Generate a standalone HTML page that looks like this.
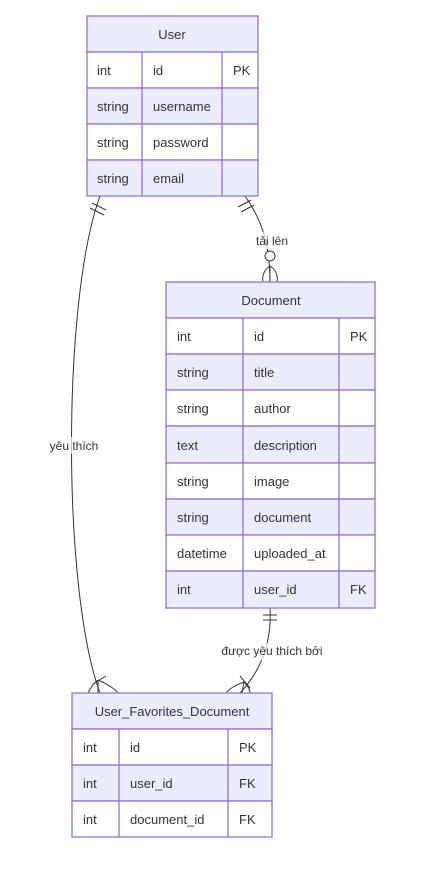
<!DOCTYPE html>
<html><head><meta charset="utf-8"><style>
body{margin:0;background:#fff}
svg text{font-family:"Liberation Sans","DejaVu Sans",sans-serif;font-size:13px;fill:#333}
</style></head><body>
<svg width="431" height="871" xmlns="http://www.w3.org/2000/svg">
<g fill="none" stroke="#333" stroke-width="1">
<path d="M100,196 C62,300 62,590 100,693"/>
<path d="M245,196 C262,220 270,245 270,282"/>
<path d="M270,608 C272,640 262,670 240,693"/>
<!-- User left: double bar -->
<line x1="92" y1="203" x2="106" y2="210"/><line x1="90" y1="208" x2="104" y2="215"/>
<!-- User right -->
<line x1="238" y1="207" x2="251" y2="200"/><line x1="241" y1="212" x2="254" y2="205"/>
<!-- Document top: circle + crow -->
<circle cx="270" cy="256" r="5" fill="#fff"/>
<path d="M270,266 C263,270 262,278 263,282 M270,266 L270,282 M270,266 C277,270 278,278 277,282"/>
<!-- Document bottom double bar -->
<line x1="263" y1="615" x2="277" y2="615"/><line x1="263" y1="620" x2="277" y2="620"/>
<!-- UFD left -->
<line x1="93" y1="684" x2="106" y2="676"/>
<path d="M98,680 C92,684 90,690 88,693 M98,680 L98,693 M98,680 C108,684 116,690 118,693"/>
<!-- UFD right -->
<line x1="240" y1="676" x2="250" y2="688"/>
<path d="M244,682 C238,684 230,688 226,693 M244,682 L242,693 M244,682 C248,686 250,690 250,693"/>
</g>
<g>
<rect x="48" y="437" width="54" height="17" fill="#fff" opacity="0.7"/>
<text x="74" y="450" text-anchor="middle" font-size="12" style="font-size:12px">yêu thích</text>
<rect x="252" y="232" width="40" height="17" fill="#fff" opacity="0.7"/>
<text x="272" y="245" text-anchor="middle" style="font-size:12px">tải lên</text>
<rect x="220" y="643" width="104" height="17" fill="#fff" opacity="0.7"/>
<text x="272" y="655" text-anchor="middle" style="font-size:12px">được yêu thích bởi</text>
</g>
<g stroke="#9370DB" stroke-width="1.3">
<!-- User -->
<rect x="87" y="16" width="171" height="36" fill="#ECECFF"/>
<rect x="87" y="52" width="171" height="36" fill="#fff"/>
<rect x="87" y="88" width="171" height="36" fill="#ECECFF"/>
<rect x="87" y="124" width="171" height="36" fill="#fff"/>
<rect x="87" y="160" width="171" height="36" fill="#ECECFF"/>
<line x1="142" y1="52" x2="142" y2="196"/><line x1="222" y1="52" x2="222" y2="196"/>
<!-- Document -->
<rect x="166" y="282" width="209" height="36" fill="#ECECFF"/>
<rect x="166" y="318" width="209" height="36" fill="#fff"/>
<rect x="166" y="354" width="209" height="36" fill="#ECECFF"/>
<rect x="166" y="390" width="209" height="36" fill="#fff"/>
<rect x="166" y="426" width="209" height="37" fill="#ECECFF"/>
<rect x="166" y="463" width="209" height="36" fill="#fff"/>
<rect x="166" y="499" width="209" height="36" fill="#ECECFF"/>
<rect x="166" y="535" width="209" height="36" fill="#fff"/>
<rect x="166" y="571" width="209" height="37" fill="#ECECFF"/>
<line x1="243" y1="318" x2="243" y2="608"/><line x1="339" y1="318" x2="339" y2="608"/>
<!-- UFD -->
<rect x="72" y="693" width="200" height="36" fill="#ECECFF"/>
<rect x="72" y="729" width="200" height="36" fill="#fff"/>
<rect x="72" y="765" width="200" height="36" fill="#ECECFF"/>
<rect x="72" y="801" width="200" height="36" fill="#fff"/>
<line x1="119" y1="729" x2="119" y2="837"/><line x1="228" y1="729" x2="228" y2="837"/>
</g>
<g>
<text x="172" y="39" text-anchor="middle">User</text>
<text x="97" y="75">int</text><text x="153" y="75">id</text><text x="233" y="75">PK</text>
<text x="97" y="111">string</text><text x="153" y="111">username</text>
<text x="97" y="147">string</text><text x="153" y="147">password</text>
<text x="97" y="183">string</text><text x="153" y="183">email</text>

<text x="271" y="305" text-anchor="middle">Document</text>
<text x="177" y="341">int</text><text x="254" y="341">id</text><text x="350" y="341">PK</text>
<text x="177" y="377">string</text><text x="254" y="377">title</text>
<text x="177" y="413">string</text><text x="254" y="413">author</text>
<text x="177" y="450">text</text><text x="254" y="450">description</text>
<text x="177" y="486">string</text><text x="254" y="486">image</text>
<text x="177" y="522">string</text><text x="254" y="522">document</text>
<text x="177" y="558">datetime</text><text x="254" y="558">uploaded_at</text>
<text x="177" y="594">int</text><text x="254" y="594">user_id</text><text x="350" y="594">FK</text>

<text x="172" y="716" text-anchor="middle">User_Favorites_Document</text>
<text x="83" y="752">int</text><text x="130" y="752">id</text><text x="239" y="752">PK</text>
<text x="83" y="788">int</text><text x="130" y="788">user_id</text><text x="239" y="788">FK</text>
<text x="83" y="824">int</text><text x="130" y="824">document_id</text><text x="239" y="824">FK</text>
</g>
</svg>
</body></html>
